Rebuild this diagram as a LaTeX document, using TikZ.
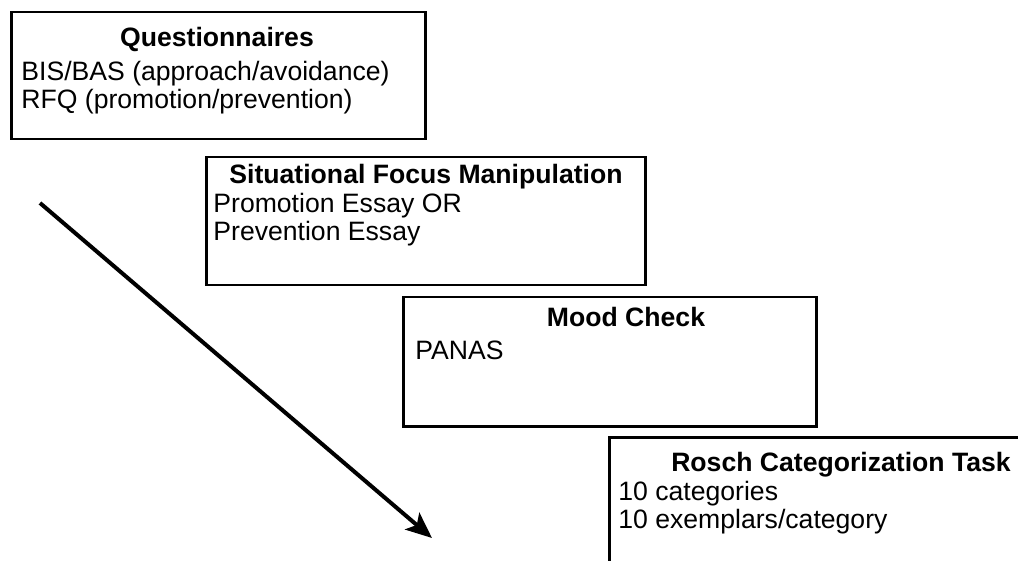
\documentclass[tikz,border=0pt]{standalone}
\usepackage{fontspec}
\setmainfont{Liberation Sans}
\usetikzlibrary{arrows.meta}

\begin{document}
\begin{tikzpicture}[x=0.5pt, y=-0.5pt]
        \tikzstyle{stage}=[draw, line width=1.25pt, rectangle, inner sep=0pt, anchor=north west]
        \tikzstyle{title}=[inner sep=0pt, anchor=base, font=\fontsize{13.3}{14}\selectfont\bfseries]
        \tikzstyle{item}=[inner sep=0pt, anchor=base west, font=\fontsize{13.3}{14}\selectfont]
        \tikzstyle{flow}=[line width=2pt, -{Stealth[length=13pt, width=11pt, inset=3pt]}]
        \clip (0,0) rectangle (1018,561);
        \node [stage, minimum width=207pt, minimum height=63.5pt] (quest) at (10,11) {};
        \node [title] (questT) at (217,47) {Questionnaires};
        \node [item] (questA) at (21,81) {BIS/BAS (approach/avoidance)};
        \node [item] (questB) at (21,109) {RFQ (promotion/prevention)};
        \node [stage, minimum width=219.5pt, minimum height=64pt] (manip) at (205,156) {};
        \node [title] (manipT) at (426,184) {Situational Focus Manipulation};
        \node [item] (manipA) at (213,213) {Promotion Essay OR};
        \node [item] (manipB) at (213,241) {Prevention Essay};
        \node [stage, minimum width=206.5pt, minimum height=64.5pt] (mood) at (402,296) {};
        \node [title] (moodT) at (626,327) {Mood Check};
        \node [item] (moodA) at (415,359) {PANAS};
        \node [stage, minimum width=233.5pt, minimum height=65pt] (rosch) at (608,436) {};
        \node [title] (roschT) at (841,471) {Rosch Categorization Task};
        \node [item] (roschA) at (618,500) {10 categories};
        \node [item] (roschB) at (618,528) {10 exemplars/category};
        \coordinate (start) at (40,203);
        \coordinate (end) at (432,538);
        \draw [flow] (start) -- (end);
    \end{tikzpicture}
\end{document}
